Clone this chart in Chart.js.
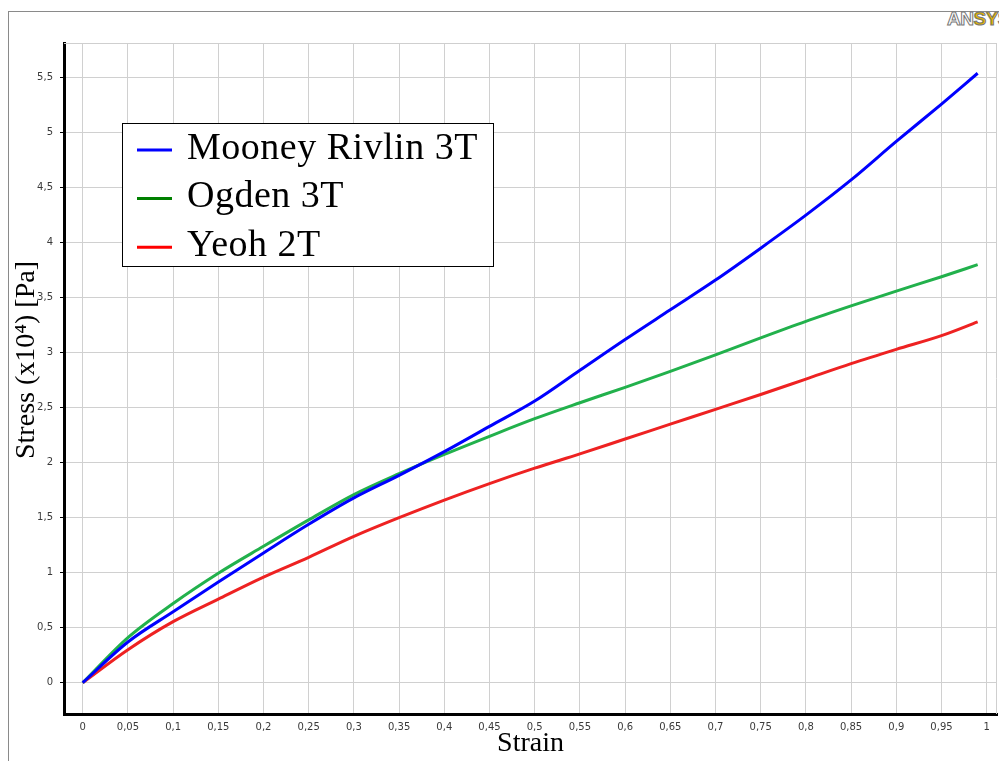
<!DOCTYPE html>
<html>
<head>
<meta charset="utf-8">
<script src="https://cdn.jsdelivr.net/npm/chart.js@4/dist/chart.umd.min.js"></script>
<style>
  body { margin: 0; background: #fff; overflow: hidden; }
  #frame { position: absolute; left: 8px; top: 11px; width: 1100px; height: 800px; border: 1px solid #8a8a8a; }
  #logo { position: absolute; left: 947px; top: 8px; font: bold 19px "Liberation Sans", sans-serif; letter-spacing: -0.5px; -webkit-text-stroke: 1px #777; white-space: nowrap; }
  #logo .a { color: #fff; }
  #logo .s { color: #e2b400; }
  #wrap { position: absolute; left: 0; top: 0; width: 999px; height: 761px; }
</style>
</head>
<body>
<div id="frame"></div>
<div id="logo"><span class="a">AN</span><span class="s">SYS</span></div>
<div id="wrap"><canvas id="c" width="999" height="761"></canvas></div>
<script>
// strain values (x) shared by all three fits
const strain = [0, 0.05, 0.1, 0.15, 0.2, 0.25, 0.3, 0.35, 0.4, 0.45, 0.5,
                0.55, 0.6, 0.65, 0.7, 0.75, 0.8, 0.85, 0.9, 0.95, 0.99];

// stress in x10^4 Pa
const mooney = [0, 0.37, 0.645, 0.915, 1.18, 1.44, 1.68, 1.885, 2.10, 2.33, 2.56,
                2.84, 3.12, 3.39, 3.66, 3.95, 4.25, 4.57, 4.92, 5.26, 5.54];
const ogden  = [0, 0.41, 0.72, 0.995, 1.24, 1.48, 1.71, 1.90, 2.075, 2.24, 2.40,
                2.545, 2.685, 2.83, 2.98, 3.135, 3.285, 3.425, 3.56, 3.69, 3.80];
const yeoh   = [0, 0.30, 0.555, 0.76, 0.96, 1.14, 1.33, 1.50, 1.66, 1.81, 1.95,
                2.08, 2.215, 2.35, 2.485, 2.62, 2.76, 2.90, 3.03, 3.155, 3.28];

const seriesLabels = ['Mooney Rivlin 3T', 'Ogden 3T', 'Yeoh 2T'];

function toPoints(ys) {
  return strain.map((x, i) => ({ x: x, y: ys[i] }));
}

function commaLabel(v) {
  return String(Math.round(v * 100) / 100).replace('.', ',');
}

// legend box, frame lines and y title
const extras = {
  id: 'extras',
  beforeDatasetsDraw(chart) {
    const { ctx, chartArea: a } = chart;
    ctx.save();
    ctx.strokeStyle = '#cfcfcf';
    ctx.lineWidth = 1;
    ctx.beginPath();
    ctx.moveTo(a.left, a.top + 0.5);
    ctx.lineTo(a.right, a.top + 0.5);
    ctx.moveTo(a.right - 0.5, a.top);
    ctx.lineTo(a.right - 0.5, a.bottom);
    ctx.stroke();
    ctx.restore();
  },
  afterDraw(chart) {
    const ctx = chart.ctx;
    ctx.save();
    // legend
    ctx.fillStyle = '#fff';
    ctx.fillRect(122.5, 123.5, 371, 143);
    ctx.strokeStyle = '#000';
    ctx.lineWidth = 1;
    ctx.strokeRect(122.5, 123.5, 371, 143);
    ctx.font = '38px "Liberation Serif", serif';
    ctx.letterSpacing = '0.5px';
    ctx.textBaseline = 'alphabetic';
    ctx.textAlign = 'left';
    chart.data.datasets.forEach((ds, i) => {
      const y = 150 + i * 48.6;
      ctx.strokeStyle = ds.legendColor;
      ctx.lineWidth = 3;
      ctx.beginPath();
      ctx.moveTo(137, y);
      ctx.lineTo(172, y);
      ctx.stroke();
      ctx.fillStyle = '#000';
      ctx.fillText(ds.label, 187, y + 8.5);
    });
    // y axis title
    ctx.letterSpacing = '0px';
    ctx.translate(27, 360);
    ctx.rotate(-Math.PI / 2);
    ctx.font = '28px "Liberation Serif", serif';
    ctx.textAlign = 'center';
    ctx.textBaseline = 'middle';
    ctx.fillStyle = '#000';
    ctx.fillText('Stress (x10\u2074) [Pa]', 0, 0);
    ctx.restore();
  }
};

const tickFont = { family: '"DejaVu Sans", sans-serif', size: 10 };

new Chart(document.getElementById('c'), {
  type: 'line',
  data: {
    datasets: [
      { label: seriesLabels[0], data: toPoints(mooney), borderColor: '#0000ff', legendColor: '#0000ff' },
      { label: seriesLabels[1], data: toPoints(ogden), borderColor: '#22b14c', legendColor: '#008000' },
      { label: seriesLabels[2], data: toPoints(yeoh), borderColor: '#ee2222', legendColor: '#ff0000' }
    ]
  },
  options: {
    responsive: false,
    animation: false,
    devicePixelRatio: 1,
    layout: { padding: { left: 0, top: 43, right: 2, bottom: 0 } },
    elements: {
      line: { borderWidth: 3, cubicInterpolationMode: 'monotone', fill: false },
      point: { radius: 0 }
    },
    plugins: { legend: { display: false }, tooltip: { enabled: false } },
    scales: {
      x: {
        type: 'linear',
        min: -0.0207,
        max: 1.0114,
        afterFit: s => { s.height = 47; },
        border: { color: '#000', width: 3 },
        grid: { color: '#d0d0d0', lineWidth: 1, drawTicks: false },
        ticks: {
          stepSize: 0.05, includeBounds: false, autoSkip: false, maxRotation: 0,
          padding: 7, color: '#3a3a3a', font: tickFont, callback: commaLabel
        },
        title: {
          display: true, text: 'Strain', color: '#000',
          font: { family: '"Liberation Serif", serif', size: 28, lineHeight: 1 },
          padding: { top: 0, bottom: 3 }
        }
      },
      y: {
        type: 'linear',
        min: -0.2845,
        max: 5.815,
        afterFit: s => { s.width = 64; },
        border: { color: '#000', width: 3 },
        grid: { color: '#d0d0d0', lineWidth: 1, tickLength: 4, tickColor: '#000', tickWidth: 1 },
        ticks: {
          stepSize: 0.5, includeBounds: false, padding: 7,
          color: '#3a3a3a', font: tickFont, callback: commaLabel
        }
      }
    }
  },
  plugins: [extras]
});
</script>
</body>
</html>
